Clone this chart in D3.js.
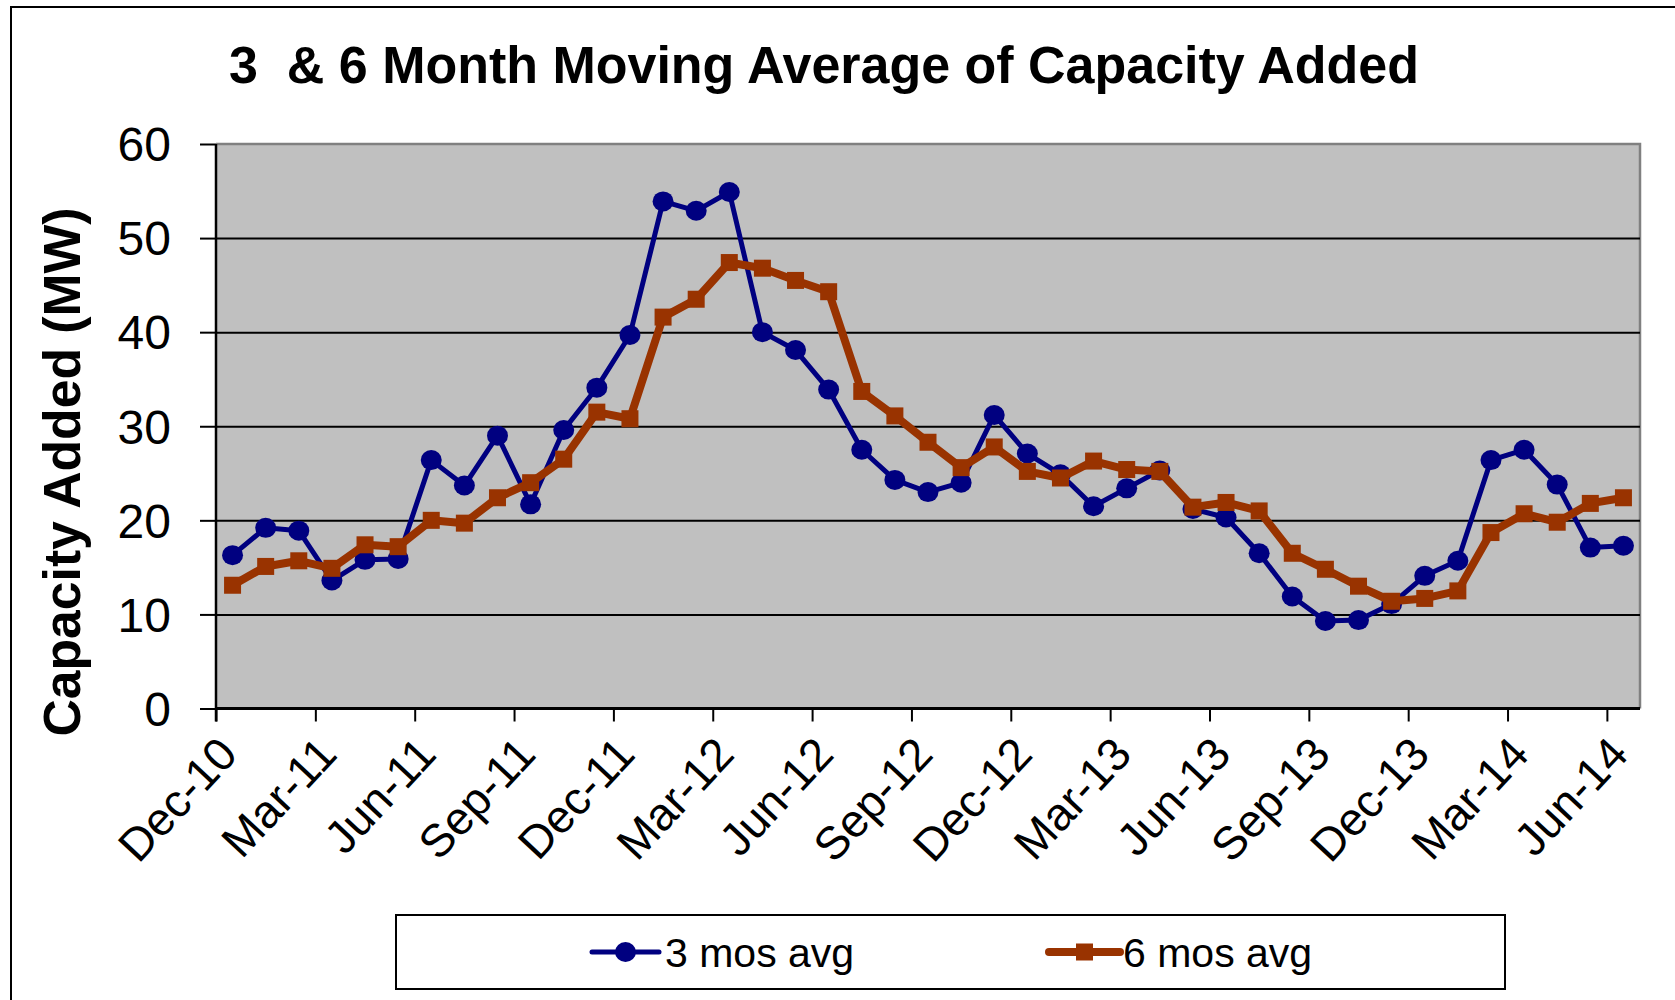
<!DOCTYPE html>
<html>
<head>
<meta charset="utf-8">
<script src="https://cdn.jsdelivr.net/npm/d3@7"></script>
<style>
  body { margin: 0; background: #fff; }
  text { font-family: "Liberation Sans", Arial, sans-serif; }
</style>
</head>
<body>
<div id="chart"></div>
<script>
// monthly categories, Dec-10 .. Jun-14
var months = ["Dec-10",
  "Jan-11","Feb-11","Mar-11","Apr-11","May-11","Jun-11","Jul-11","Aug-11","Sep-11","Oct-11","Nov-11","Dec-11",
  "Jan-12","Feb-12","Mar-12","Apr-12","May-12","Jun-12","Jul-12","Aug-12","Sep-12","Oct-12","Nov-12","Dec-12",
  "Jan-13","Feb-13","Mar-13","Apr-13","May-13","Jun-13","Jul-13","Aug-13","Sep-13","Oct-13","Nov-13","Dec-13",
  "Jan-14","Feb-14","Mar-14","Apr-14","May-14","Jun-14"];

var avg3 = [16.3, 19.2, 18.9, 13.6, 15.8, 15.9, 26.4, 23.7, 29.0, 21.7, 29.6, 34.1, 39.7,
  53.9, 52.9, 54.9, 40.0, 38.1, 33.9, 27.5, 24.3, 23.0, 24.0, 31.2, 27.1,
  24.9, 21.5, 23.4, 25.3, 21.2, 20.3, 16.5, 11.9, 9.3, 9.4, 11.1, 14.1,
  15.7, 26.4, 27.5, 23.8, 17.1, 17.3];

var avg6 = [13.1, 15.1, 15.7, 14.9, 17.4, 17.2, 20.0, 19.7, 22.4, 24.0, 26.5, 31.5, 30.8,
  41.6, 43.5, 47.4, 46.8, 45.5, 44.3, 33.7, 31.1, 28.3, 25.6, 27.8, 25.2,
  24.5, 26.3, 25.4, 25.2, 21.4, 21.9, 21.0, 16.5, 14.8, 13.0, 11.4, 11.7,
  12.5, 18.7, 20.7, 19.8, 21.8, 22.4];

var yTicks = [0, 10, 20, 30, 40, 50, 60];
var seriesNames = ["3 mos avg", "6 mos avg"];
var titleText = "3  & 6 Month Moving Average of Capacity Added";
var yTitle = "Capacity Added (MW)";

var W = 1675, H = 1000;
var pl = 216, pr = 1640, pt = 144, pb = 708.5;
var blue = "#000080", brown = "#993300";

var svg = d3.select("#chart").append("svg")
  .attr("width", W).attr("height", H);

// outer chart frame (runs off the right/bottom of the picture)
svg.append("rect")
  .attr("x", 11).attr("y", 7)
  .attr("width", 1700).attr("height", 1010)
  .attr("fill", "#fff").attr("stroke", "#000").attr("stroke-width", 2);

var x = d3.scaleBand().domain(months).range([pl, pr]).padding(0);
var xi = d3.scaleLinear().domain([0, months.length]).range([pl, pr]);
var y = d3.scaleLinear().domain([0, 60]).range([pb, pt]);
var cx = function(i) { return x(months[i]) + x.bandwidth() / 2; };

// plot area
svg.append("rect")
  .attr("x", pl).attr("y", pt)
  .attr("width", pr - pl).attr("height", pb - pt)
  .attr("fill", "#c0c0c0");
svg.append("path")
  .attr("d", "M" + pl + "," + pt + "H" + pr + "V" + pb)
  .attr("fill", "none").attr("stroke", "#808080").attr("stroke-width", 2.5);

// gridlines
svg.append("g")
  .attr("transform", "translate(" + pl + ",0)")
  .call(d3.axisLeft(y).tickValues(yTicks.slice(1, -1)).tickSize(-(pr - pl)).tickFormat(""))
  .call(function(g) { g.select(".domain").remove(); })
  .selectAll("line").attr("stroke", "#000").attr("stroke-width", 2);

// y axis
var ya = svg.append("g")
  .attr("transform", "translate(" + pl + ",0)")
  .call(d3.axisLeft(y).tickValues(yTicks).tickSize(16).tickPadding(0).tickFormat(d3.format("d")));
ya.select(".domain").remove();
ya.selectAll("line").attr("stroke", "#000").attr("stroke-width", 2);
ya.selectAll("text")
  .attr("x", 171 - pl).attr("dy", "0.35em")
  .attr("fill", "#000")
  .style("font-size", "48px");
svg.append("line")
  .attr("x1", pl).attr("x2", pl).attr("y1", pt).attr("y2", pb + 13)
  .attr("stroke", "#000").attr("stroke-width", 2.5);

// x axis: ticks between categories every 3 months
var xa = svg.append("g")
  .attr("transform", "translate(0," + pb + ")")
  .call(d3.axisBottom(xi).tickValues(d3.range(0, months.length, 3)).tickSize(13).tickFormat(""));
xa.select(".domain").remove();
xa.selectAll("line").attr("stroke", "#000").attr("stroke-width", 2);
svg.append("line")
  .attr("x1", pl).attr("x2", pr).attr("y1", pb).attr("y2", pb)
  .attr("stroke", "#000").attr("stroke-width", 3);

svg.append("g").selectAll("text")
  .data(months.map(function(m, i) { return { m: m, i: i }; }).filter(function(d) { return d.i % 3 === 0; }))
  .enter().append("text")
  .attr("transform", function(d) { return "translate(" + (cx(d.i) + 7) + ",756) rotate(-47)"; })
  .attr("text-anchor", "end")
  .style("font-size", "46px")
  .text(function(d) { return d.m; });

// series
var line = d3.line()
  .x(function(d, i) { return cx(i); })
  .y(function(d) { return y(d); });

svg.append("path").datum(avg3)
  .attr("d", line).attr("fill", "none")
  .attr("stroke", blue).attr("stroke-width", 5).attr("stroke-linejoin", "round");
svg.append("g").selectAll("ellipse").data(avg3).enter().append("ellipse")
  .attr("cx", function(d, i) { return cx(i); })
  .attr("cy", function(d) { return y(d); })
  .attr("rx", 10.5).attr("ry", 10).attr("fill", blue);

svg.append("path").datum(avg6)
  .attr("d", line).attr("fill", "none")
  .attr("stroke", brown).attr("stroke-width", 8).attr("stroke-linejoin", "round");
svg.append("g").selectAll("rect").data(avg6).enter().append("rect")
  .attr("x", function(d, i) { return cx(i) - 8.5; })
  .attr("y", function(d) { return y(d) - 8.5; })
  .attr("width", 17).attr("height", 17).attr("fill", brown);

// title
svg.append("text")
  .attr("x", 229).attr("y", 83)
  .attr("textLength", 1190).attr("lengthAdjust", "spacingAndGlyphs")
  .style("font-size", "51px").style("font-weight", "bold")
  .style("white-space", "pre")
  .text(titleText);

// y title
svg.append("text")
  .attr("transform", "translate(80,472) rotate(-90)")
  .attr("text-anchor", "middle")
  .attr("textLength", 529).attr("lengthAdjust", "spacingAndGlyphs")
  .style("font-size", "52px").style("font-weight", "bold")
  .text(yTitle);

// legend
var lg = svg.append("g");
lg.append("rect")
  .attr("x", 396).attr("y", 915).attr("width", 1109).attr("height", 74)
  .attr("fill", "#fff").attr("stroke", "#000").attr("stroke-width", 2);

var items = [
  { name: seriesNames[0], color: blue, x0: 592, x1: 659, w: 5, tx: 665 },
  { name: seriesNames[1], color: brown, x0: 1049, x1: 1120, w: 8, tx: 1123 }
];
items.forEach(function(it, k) {
  var mid = (it.x0 + it.x1) / 2;
  lg.append("line")
    .attr("x1", it.x0).attr("x2", it.x1).attr("y1", 952).attr("y2", 952)
    .attr("stroke", it.color).attr("stroke-width", it.w).attr("stroke-linecap", "round");
  if (k === 0) {
    lg.append("ellipse").attr("cx", mid).attr("cy", 952).attr("rx", 10.5).attr("ry", 10).attr("fill", it.color);
  } else {
    lg.append("rect").attr("x", mid - 8.5).attr("y", 943.5).attr("width", 17).attr("height", 17).attr("fill", it.color);
  }
  lg.append("text")
    .attr("x", it.tx).attr("y", 967)
    .style("font-size", "41px")
    .text(it.name);
});
</script>
</body>
</html>
